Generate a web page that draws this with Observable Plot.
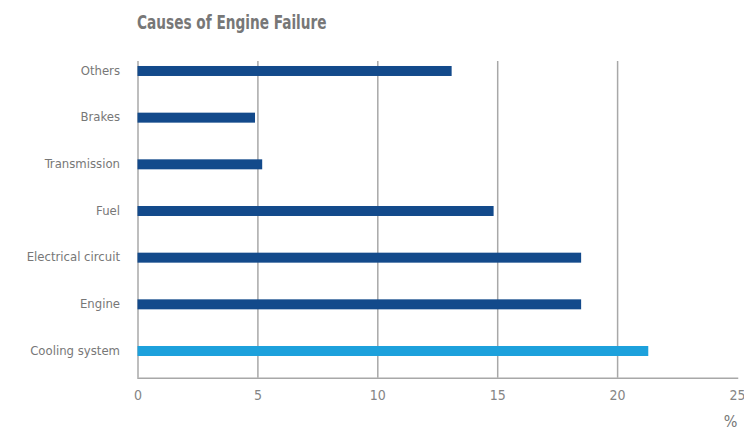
<!DOCTYPE html>
<html>
<head>
<meta charset="utf-8">
<script src="https://cdn.jsdelivr.net/npm/d3@7"></script>
<script src="https://cdn.jsdelivr.net/npm/@observablehq/plot@0.6"></script>
<style>
  body { margin: 0; background: #fff; }
  #title { height: 40px; box-sizing: border-box; padding-top: 10px; margin-left: 137px;
    font-family: "DejaVu Sans Condensed", sans-serif;
    font-weight: bold; font-size: 19px; color: #777; line-height: 24px;
    transform: scaleX(0.8); transform-origin: left top; white-space: nowrap; }
  svg { display: block; }
</style>
</head>
<body>
<div id="title">Causes of Engine Failure</div>
<div id="chart"></div>
<script>
const categories = ["Others", "Brakes", "Transmission", "Fuel", "Electrical circuit", "Engine", "Cooling system"];
const values = [13.1, 4.9, 5.2, 14.85, 18.5, 18.5, 21.3];
const highlight = ["Cooling system"];
const xTicks = [0, 5, 10, 15, 20, 25];
const gridTicks = [0, 5, 10, 15, 20];
const unitLabel = ["%"];

const data = categories.map((c, i) => ({category: c, value: values[i]}));

const chart = Plot.plot({
  width: 744,
  height: 390,
  marginLeft: 137.5,
  marginRight: 7,
  marginTop: 21,
  marginBottom: 52.3,
  style: {fontFamily: "'DejaVu Sans Condensed', sans-serif", color: "#777", background: "#fff"},
  x: {domain: [0, 25], ticks: xTicks, label: null},
  y: {domain: categories, paddingInner: 0.786, paddingOuter: 0.286, align: 0.187, round: false, label: null},
  marks: [
    Plot.ruleX(gridTicks, {stroke: "#a8a8a8", strokeWidth: 1.5}),
    Plot.frame({anchor: "bottom", stroke: "#a8a8a8", strokeWidth: 1.5}),
    Plot.barX(data, {y: "category", x: "value", fill: d => highlight.includes(d.category) ? "#1DA1DC" : "#134A8B"}),
    Plot.axisX({ticks: xTicks, tickSize: 0, tickPadding: 12, fontSize: 14, fill: "#858585", label: null}),
    Plot.axisY({tickSize: 0, tickPadding: 18, fontSize: 13, fill: "#777", dy: -1}),
    Plot.text(unitLabel, {text: d => d, frameAnchor: "bottom-right", textAnchor: "end", dy: 49, dx: 0, fontSize: 16, fill: "#777"})
  ]
});
document.getElementById("chart").appendChild(chart);
</script>
</body>
</html>
